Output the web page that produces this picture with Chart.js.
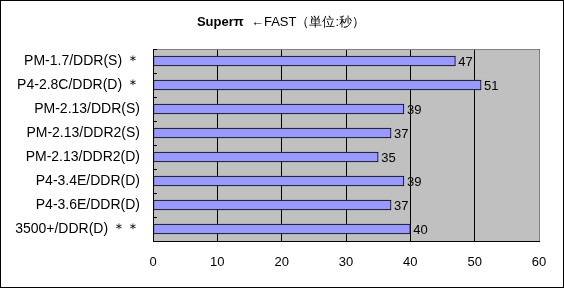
<!DOCTYPE html>
<html>
<head>
<meta charset="utf-8">
<script src="https://cdn.jsdelivr.net/npm/chart.js@4"></script>
<style>
  html, body { margin: 0; padding: 0; background: #fff; }
  #c { display: block; }
</style>
</head>
<body>
<canvas id="c" width="564" height="288"></canvas>
<script>
// Super PI timings in seconds (shorter is faster)
const categories = [
  'PM-1.7/DDR(S) ＊',
  'P4-2.8C/DDR(D) ＊',
  'PM-2.13/DDR(S)',
  'PM-2.13/DDR2(S)',
  'PM-2.13/DDR2(D)',
  'P4-3.4E/DDR(D)',
  'P4-3.6E/DDR(D)',
  '3500+/DDR(D) ＊＊'
];
const seconds = [47, 51, 39, 37, 35, 39, 37, 40];
const axisMin = 0;
const axisMax = 60;
const axisStep = 10;
const titleBold = 'Superπ';
const titleRest = '  ←FAST（単位:秒）';

const FONT = '"Liberation Sans", Arial, sans-serif';

// White page, outer frame and grey plot background
const framePlugin = {
  id: 'frame',
  beforeDraw(chart) {
    const { ctx, chartArea: a, width, height } = chart;
    ctx.save();
    ctx.fillStyle = '#fff';
    ctx.fillRect(0, 0, width, height);
    ctx.strokeStyle = '#000';
    ctx.lineWidth = 1;
    ctx.strokeRect(0.5, 0.5, width - 1, height - 1);
    ctx.fillStyle = '#c0c0c0';
    ctx.fillRect(a.left, a.top, a.right - a.left, a.bottom - a.top);
    ctx.restore();
  },
  beforeDatasetsDraw(chart) {
    const { ctx, chartArea: a, scales } = chart;
    ctx.save();
    ctx.lineWidth = 1;
    // grey top and right edges of the plot
    ctx.strokeStyle = '#808080';
    ctx.beginPath();
    ctx.moveTo(a.left, a.top + 0.5);
    ctx.lineTo(a.right + 0.5, a.top + 0.5);
    ctx.lineTo(a.right + 0.5, a.bottom);
    ctx.stroke();
    // short inward tick marks between categories
    ctx.strokeStyle = '#000';
    const y = scales.y;
    ctx.beginPath();
    for (let i = 0; i <= categories.length; i++) {
      const py = Math.round(y.getPixelForValue(i - 0.5)) + 0.5;
      ctx.moveTo(a.left, py);
      ctx.lineTo(a.left + 4, py);
    }
    ctx.stroke();
    ctx.restore();
  }
};

// Value labels at the end of each bar
const valueLabels = {
  id: 'valueLabels',
  afterDatasetsDraw(chart) {
    const { ctx } = chart;
    const meta = chart.getDatasetMeta(0);
    ctx.save();
    ctx.font = '13px ' + FONT;
    ctx.fillStyle = '#000';
    ctx.textAlign = 'left';
    ctx.textBaseline = 'middle';
    meta.data.forEach((el, i) => {
      ctx.fillText(String(seconds[i]), el.x + 3, el.y + 1);
    });
    ctx.restore();
  }
};

// Title with a bold first part
const titlePlugin = {
  id: 'mixedTitle',
  afterDraw(chart) {
    const { ctx } = chart;
    ctx.save();
    ctx.textBaseline = 'middle';
    ctx.fillStyle = '#000';
    const boldFont = 'bold 13px ' + FONT;
    const normFont = '13px ' + FONT;
    ctx.font = boldFont;
    const w1 = ctx.measureText(titleBold).width;
    ctx.font = normFont;
    const w2 = ctx.measureText(titleRest).width;
    const cx = 281;
    let x = cx - (w1 + w2) / 2;
    ctx.textAlign = 'left';
    ctx.font = boldFont;
    ctx.fillText(titleBold, x, 22);
    ctx.font = normFont;
    ctx.fillText(titleRest, x + w1, 22);
    ctx.restore();
  }
};

new Chart(document.getElementById('c'), {
  type: 'bar',
  data: {
    labels: categories,
    datasets: [{
      data: seconds,
      backgroundColor: '#9999ff',
      borderColor: '#000',
      borderWidth: 1,
      borderSkipped: false,
      barThickness: 10
    }]
  },
  options: {
    indexAxis: 'y',
    responsive: false,
    animation: false,
    devicePixelRatio: 1,
    layout: { padding: { top: 49, right: 25, left: 0, bottom: 0 } },
    plugins: {
      legend: { display: false },
      title: { display: false },
      tooltip: { enabled: false }
    },
    scales: {
      x: {
        min: axisMin,
        max: axisMax,
        afterFit(scale) { scale.height = 47; },
        ticks: {
          stepSize: axisStep,
          color: '#000',
          font: { family: FONT, size: 13 },
          padding: 14,
          maxRotation: 0
        },
        grid: { color: '#000', lineWidth: 1, drawTicks: false },
        border: { display: true, color: '#000', width: 1 }
      },
      y: {
        afterFit(scale) { scale.width = 153; },
        ticks: {
          color: '#000',
          font: { family: FONT, size: 14 },
          padding: 13
        },
        grid: { drawOnChartArea: false, drawTicks: false },
        border: { display: true, color: '#000', width: 1 }
      }
    }
  },
  plugins: [framePlugin, valueLabels, titlePlugin]
});
</script>
</body>
</html>
